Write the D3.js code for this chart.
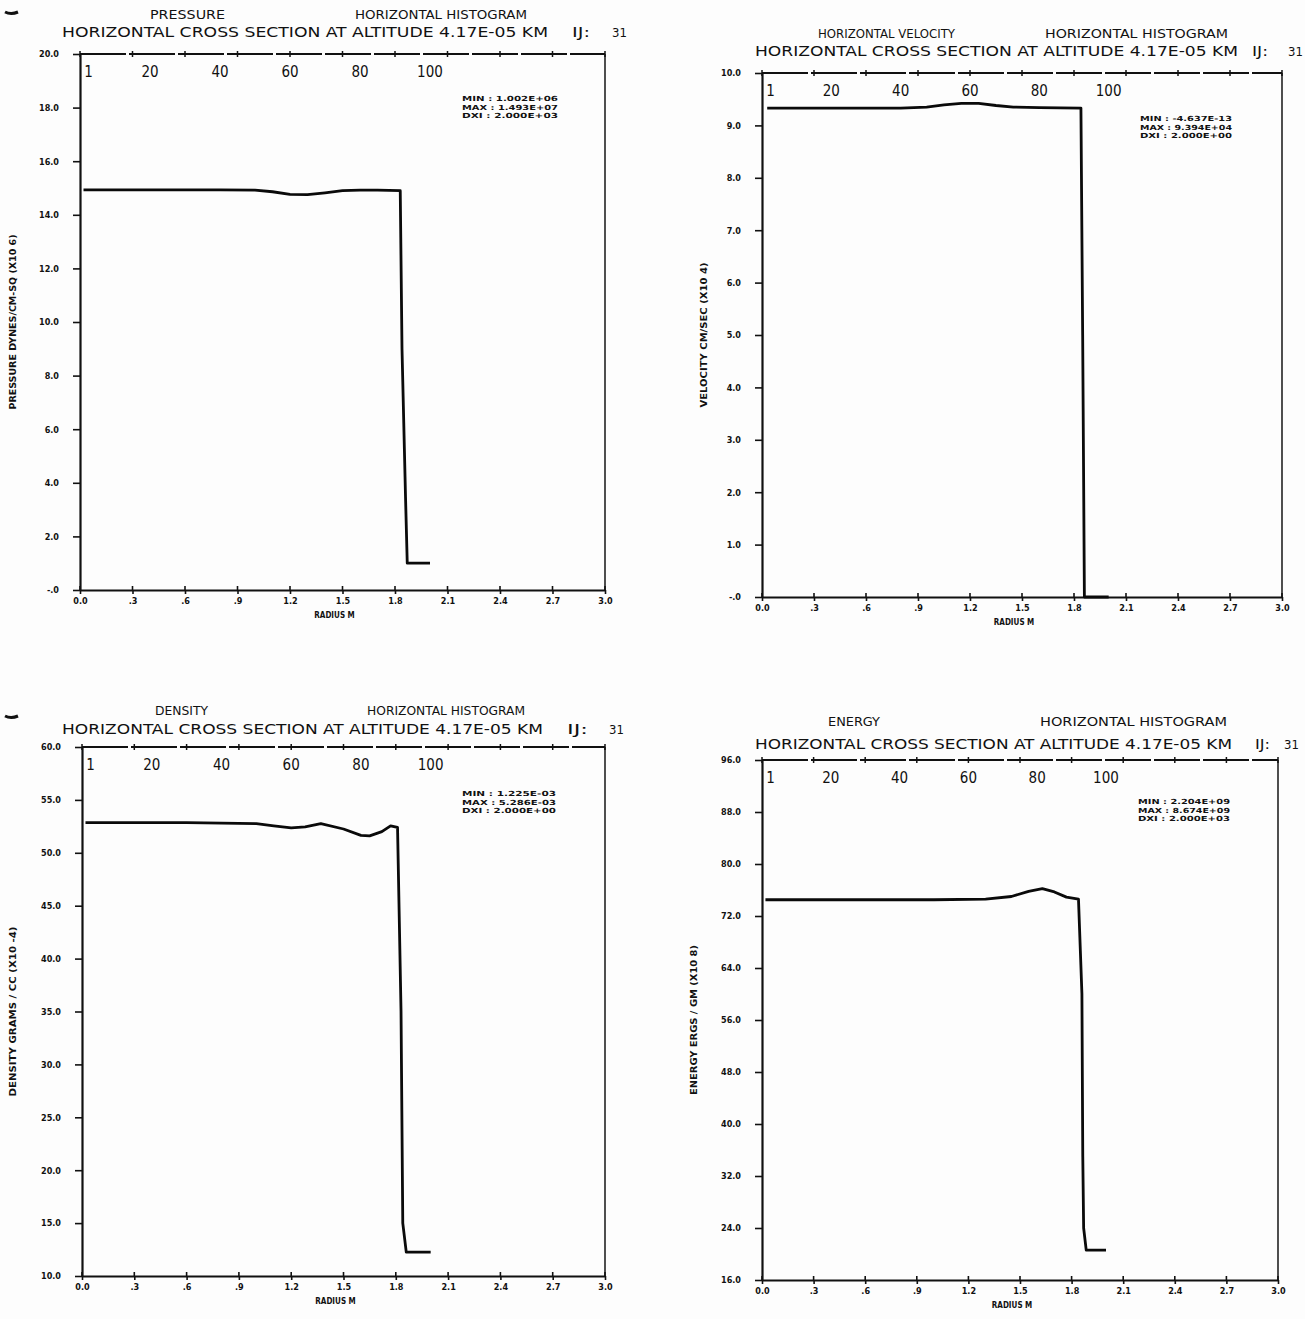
<!DOCTYPE html>
<html><head><meta charset="utf-8">
<script src="https://cdn.jsdelivr.net/npm/d3@7"></script>
<style>body{margin:0;background:#fff}</style>
</head><body>
<script>
// ---------------- DATA ----------------
const radiusTicks = [0, 0.3, 0.6, 0.9, 1.2, 1.5, 1.8, 2.1, 2.4, 2.7, 3.0];
const radiusTickLabels = ["0.0", ".3", ".6", ".9", "1.2", "1.5", "1.8", "2.1", "2.4", "2.7", "3.0"];
const cellTicks = [1, 20, 40, 60, 80, 100];
const cellWidth = 0.02;

const pressureTicks = [0, 2, 4, 6, 8, 10, 12, 14, 16, 18, 20];
const pressureTickLabels = ["-.0", "2.0", "4.0", "6.0", "8.0", "10.0", "12.0", "14.0", "16.0", "18.0", "20.0"];
const pressureRadius = [0.02, 0.4, 0.8, 1.0, 1.1, 1.2, 1.3, 1.4, 1.5, 1.6, 1.7, 1.83, 1.84, 1.86, 1.87, 2.0];
const pressureValues = [14.93, 14.93, 14.93, 14.92, 14.86, 14.76, 14.75, 14.82, 14.9, 14.92, 14.92, 14.9, 9.0, 3.5, 1.0, 1.0];

const velocityTicks = [0, 1, 2, 3, 4, 5, 6, 7, 8, 9, 10];
const velocityTickLabels = ["-.0", "1.0", "2.0", "3.0", "4.0", "5.0", "6.0", "7.0", "8.0", "9.0", "10.0"];
const velocityRadius = [0.03, 0.4, 0.8, 0.95, 1.05, 1.15, 1.25, 1.35, 1.45, 1.6, 1.84, 1.85, 1.86, 2.0];
const velocityValues = [9.33, 9.33, 9.33, 9.35, 9.39, 9.42, 9.42, 9.38, 9.35, 9.34, 9.33, 5.0, 0.0, 0.0];

const densityTicks = [10, 15, 20, 25, 30, 35, 40, 45, 50, 55, 60];
const densityTickLabels = ["10.0", "15.0", "20.0", "25.0", "30.0", "35.0", "40.0", "45.0", "50.0", "55.0", "60.0"];
const densityRadius = [0.02, 0.6, 1.0, 1.1, 1.2, 1.28, 1.37, 1.5, 1.6, 1.65, 1.72, 1.77, 1.81, 1.83, 1.84, 1.86, 2.0];
const densityValues = [52.86, 52.86, 52.75, 52.55, 52.35, 52.45, 52.75, 52.25, 51.65, 51.6, 52.0, 52.55, 52.4, 35.0, 15.0, 12.25, 12.25];

const energyTicks = [16, 24, 32, 40, 48, 56, 64, 72, 80, 88, 96];
const energyTickLabels = ["16.0", "24.0", "32.0", "40.0", "48.0", "56.0", "64.0", "72.0", "80.0", "88.0", "96.0"];
const energyRadius = [0.02, 0.6, 1.0, 1.3, 1.45, 1.55, 1.63, 1.7, 1.77, 1.84, 1.86, 1.865, 1.87, 1.885, 2.0];
const energyValues = [74.5, 74.5, 74.5, 74.6, 75.0, 75.8, 76.2, 75.7, 74.9, 74.6, 60.0, 35.0, 24.0, 20.6, 20.6];

const panelNames = ["PRESSURE", "HORIZONTAL VELOCITY", "DENSITY", "ENERGY"];
const histogramTitle = "HORIZONTAL HISTOGRAM";
const crossSection = "HORIZONTAL CROSS SECTION AT ALTITUDE 4.17E-05 KM";
const yTitles = ["PRESSURE DYNES/CM-SQ (X10 6)", "VELOCITY CM/SEC (X10 4)", "DENSITY GRAMS / CC (X10 -4)", "ENERGY ERGS / GM (X10 8)"];
const statMin = ["1.002E+06", "-4.637E-13", "1.225E-03", "2.204E+09"];
const statMax = ["1.493E+07", "9.394E+04", "5.286E-03", "8.674E+09"];
const statDx  = ["2.000E+03", "2.000E+00", "2.000E+00", "2.000E+03"];

// ---------------- LAYOUT ----------------
const W = 1305, H = 1319;
const svg = d3.select("body").append("svg").attr("width", W).attr("height", H)
  .style("font-family", "'DejaVu Sans Condensed','Liberation Sans Narrow',sans-serif");
svg.append("rect").attr("width", W).attr("height", H).attr("fill", "#fdfdfd");

const panels = [
  {L:80, R:605, T:54, B:590, name:[150,225,19], hist:[355,527,19], sub:[62,548,37], ij:[572,590], n31:612, yt:[16,175], st:[462,101,96],
   ticks:pressureTicks, labels:pressureTickLabels, r:pressureRadius, v:pressureValues},
  {L:762, R:1282, T:73, B:597, name:[818,955,38], hist:[1045,1228,38], sub:[755,1238,56], ij:[1252,1268], n31:1288, yt:[707,145], st:[1140,121,92],
   ticks:velocityTicks, labels:velocityTickLabels, r:velocityRadius, v:velocityValues},
  {L:82, R:605, T:747, B:1276, name:[155,208,715], hist:[367,525,715], sub:[62,543,734], ij:[567,588], n31:609, yt:[16,170], st:[462,796,94],
   ticks:densityTicks, labels:densityTickLabels, r:densityRadius, v:densityValues},
  {L:762, R:1278, T:760, B:1280, name:[828,880,726], hist:[1040,1227,726], sub:[755,1232,749], ij:[1255,1270], n31:1284, yt:[697,150], st:[1138,804,92],
   ticks:energyTicks, labels:energyTickLabels, r:energyRadius, v:energyValues}
];

function fitText(g, str, x1, x2, y, size, weight) {
  return g.append("text").attr("x", x1).attr("y", y).attr("font-size", size)
    .attr("font-weight", weight || "normal").attr("fill", "#111")
    .attr("textLength", x2 - x1).attr("lengthAdjust", "spacingAndGlyphs").text(str);
}

// punch marks
svg.append("path").attr("d", "M5,12 Q11,15 18,12").attr("stroke", "#111").attr("stroke-width", 3).attr("fill", "none");
svg.append("path").attr("d", "M5,716 Q11,719 18,716").attr("stroke", "#111").attr("stroke-width", 3).attr("fill", "none");

panels.forEach((p, k) => {
  const g = svg.append("g");
  const x = d3.scaleLinear().domain([0, 3]).range([p.L, p.R]);
  const y = d3.scaleLinear().domain([p.ticks[0], p.ticks[p.ticks.length - 1]]).range([p.B, p.T]);

  // titles
  fitText(g, panelNames[k], p.name[0], p.name[1], p.name[2], 13);
  fitText(g, histogramTitle, p.hist[0], p.hist[1], p.hist[2], 13);
  fitText(g, crossSection, p.sub[0], p.sub[1], p.sub[2], 14);
  fitText(g, "IJ:", p.ij[0], p.ij[1], p.sub[2], 14);
  g.append("text").attr("x", p.n31).attr("y", p.sub[2]).attr("font-size", 13).attr("fill", "#111").text("31");

  // frame top (dashed) and right
  g.append("line").attr("x1", p.L).attr("x2", p.R).attr("y1", p.T).attr("y2", p.T)
    .attr("stroke", "#111").attr("stroke-width", 2).attr("stroke-dasharray", "46,3");
  g.append("line").attr("x1", p.R).attr("x2", p.R).attr("y1", p.T).attr("y2", p.B)
    .attr("stroke", "#222").attr("stroke-width", 1.6);
  // top small ticks
  g.selectAll(".tt").data(radiusTicks).enter().append("line")
    .attr("x1", d => x(d)).attr("x2", d => x(d)).attr("y1", p.T - 3).attr("y2", p.T + 3)
    .attr("stroke", "#111").attr("stroke-width", 1.5);

  // cell index labels
  g.selectAll(".ci").data(cellTicks).enter().append("text")
    .attr("x", d => x(d * cellWidth) + (d === 1 ? 5 : 0)).attr("y", p.T + 23)
    .attr("text-anchor", "middle").attr("font-size", 15).attr("fill", "#111")
    .text(d => d);

  // axes
  const ya = d3.axisLeft(y).tickValues(p.ticks).tickFormat((d, i) => p.labels[i]).tickSize(7).tickSizeOuter(0).tickPadding(14);
  const yg = g.append("g").attr("transform", `translate(${p.L},0)`).call(ya);
  const xa = d3.axisBottom(x).tickValues(radiusTicks).tickFormat((d, i) => radiusTickLabels[i]).tickSize(4).tickSizeOuter(0).tickPadding(4);
  const xg = g.append("g").attr("transform", `translate(0,${p.B})`).call(xa);
  [yg, xg].forEach(a => {
    a.select(".domain").attr("stroke", "#111").attr("stroke-width", 2.2);
    a.selectAll(".tick line").attr("stroke", "#111").attr("stroke-width", 1.6);
    a.selectAll("text").attr("font-size", 9).attr("font-weight", "bold").attr("fill", "#111")
      .attr("font-family", "'DejaVu Sans Condensed',sans-serif");
  });
  // upward x ticks
  g.selectAll(".xu").data(radiusTicks).enter().append("line")
    .attr("x1", d => x(d)).attr("x2", d => x(d)).attr("y1", p.B - 4).attr("y2", p.B)
    .attr("stroke", "#111").attr("stroke-width", 1.6);

  g.append("text").attr("x", (p.L + p.R) / 2 - 8).attr("y", p.B + 28).attr("text-anchor", "middle")
    .attr("font-size", 8).attr("font-weight", "bold").attr("fill", "#111").text("RADIUS M");

  // y title
  const cy = (p.T + p.B) / 2;
  g.append("text").attr("transform", `translate(${p.yt[0]},${cy + p.yt[1] / 2}) rotate(-90)`)
    .attr("font-size", 8.5).attr("font-weight", "bold").attr("fill", "#111")
    .attr("textLength", p.yt[1]).attr("lengthAdjust", "spacingAndGlyphs")
    .text(yTitles[k]);

  // stats
  [["MIN", statMin[k]], ["MAX", statMax[k]], ["DXI", statDx[k]]].forEach((s, i) => {
    g.append("text").attr("x", p.st[0]).attr("y", p.st[1] + i * 8.5).attr("font-size", 7)
      .attr("font-weight", "bold").attr("fill", "#111")
      .attr("textLength", p.st[2]).attr("lengthAdjust", "spacingAndGlyphs")
      .text(s[0] + " : " + s[1]);
  });

  // data line
  const pts = p.r.map((r, i) => [r, p.v[i]]);
  g.append("path").datum(pts)
    .attr("d", d3.line().x(d => x(d[0])).y(d => y(d[1])))
    .attr("fill", "none").attr("stroke", "#0a0a0a").attr("stroke-width", 2.8)
    .attr("stroke-linejoin", "round");
});
</script>
</body></html>
